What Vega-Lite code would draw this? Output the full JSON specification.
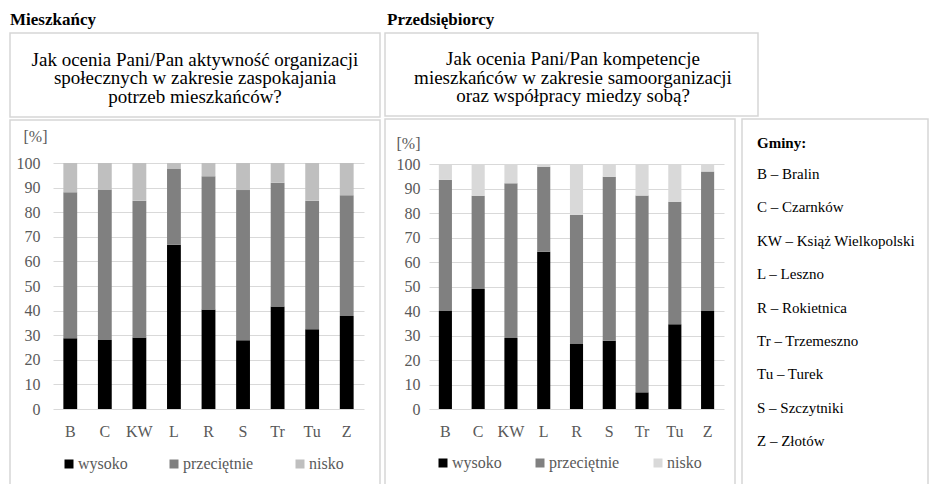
{
  "$schema": "https://vega.github.io/schema/vega-lite/v6.json",
  "padding": {"left": 9, "top": 10, "right": 0, "bottom": 0},
  "config": {
    "font": "Liberation Serif",
    "view": {"stroke": "#d6d6d6", "strokeWidth": 1.5},
    "concat": {"spacing": 1}
  },
  "datasets": {
    "mieszkancy": [
      {"g": "B", "k": "wysoko", "o": 1, "v": 28.8}, {"g": "B", "k": "przeciętnie", "o": 2, "v": 59.3}, {"g": "B", "k": "nisko", "o": 3, "v": 11.9},
      {"g": "C", "k": "wysoko", "o": 1, "v": 28.0}, {"g": "C", "k": "przeciętnie", "o": 2, "v": 61.2}, {"g": "C", "k": "nisko", "o": 3, "v": 10.8},
      {"g": "KW", "k": "wysoko", "o": 1, "v": 29.1}, {"g": "KW", "k": "przeciętnie", "o": 2, "v": 55.6}, {"g": "KW", "k": "nisko", "o": 3, "v": 15.3},
      {"g": "L", "k": "wysoko", "o": 1, "v": 66.8}, {"g": "L", "k": "przeciętnie", "o": 2, "v": 31.0}, {"g": "L", "k": "nisko", "o": 3, "v": 2.2},
      {"g": "R", "k": "wysoko", "o": 1, "v": 40.4}, {"g": "R", "k": "przeciętnie", "o": 2, "v": 54.2}, {"g": "R", "k": "nisko", "o": 3, "v": 5.4},
      {"g": "S", "k": "wysoko", "o": 1, "v": 27.9}, {"g": "S", "k": "przeciętnie", "o": 2, "v": 61.1}, {"g": "S", "k": "nisko", "o": 3, "v": 11.0},
      {"g": "Tr", "k": "wysoko", "o": 1, "v": 41.7}, {"g": "Tr", "k": "przeciętnie", "o": 2, "v": 50.3}, {"g": "Tr", "k": "nisko", "o": 3, "v": 8.0},
      {"g": "Tu", "k": "wysoko", "o": 1, "v": 32.4}, {"g": "Tu", "k": "przeciętnie", "o": 2, "v": 52.3}, {"g": "Tu", "k": "nisko", "o": 3, "v": 15.3},
      {"g": "Z", "k": "wysoko", "o": 1, "v": 37.8}, {"g": "Z", "k": "przeciętnie", "o": 2, "v": 49.1}, {"g": "Z", "k": "nisko", "o": 3, "v": 13.1}
    ],
    "przedsiebiorcy": [
      {"g": "B", "k": "wysoko", "o": 1, "v": 40.0}, {"g": "B", "k": "przeciętnie", "o": 2, "v": 53.5}, {"g": "B", "k": "nisko", "o": 3, "v": 6.5},
      {"g": "C", "k": "wysoko", "o": 1, "v": 49.0}, {"g": "C", "k": "przeciętnie", "o": 2, "v": 38.0}, {"g": "C", "k": "nisko", "o": 3, "v": 13.0},
      {"g": "KW", "k": "wysoko", "o": 1, "v": 29.0}, {"g": "KW", "k": "przeciętnie", "o": 2, "v": 63.1}, {"g": "KW", "k": "nisko", "o": 3, "v": 7.9},
      {"g": "L", "k": "wysoko", "o": 1, "v": 64.2}, {"g": "L", "k": "przeciętnie", "o": 2, "v": 34.7}, {"g": "L", "k": "nisko", "o": 3, "v": 1.1},
      {"g": "R", "k": "wysoko", "o": 1, "v": 26.7}, {"g": "R", "k": "przeciętnie", "o": 2, "v": 52.6}, {"g": "R", "k": "nisko", "o": 3, "v": 20.7},
      {"g": "S", "k": "wysoko", "o": 1, "v": 27.9}, {"g": "S", "k": "przeciętnie", "o": 2, "v": 66.9}, {"g": "S", "k": "nisko", "o": 3, "v": 5.2},
      {"g": "Tr", "k": "wysoko", "o": 1, "v": 6.8}, {"g": "Tr", "k": "przeciętnie", "o": 2, "v": 80.3}, {"g": "Tr", "k": "nisko", "o": 3, "v": 12.9},
      {"g": "Tu", "k": "wysoko", "o": 1, "v": 34.6}, {"g": "Tu", "k": "przeciętnie", "o": 2, "v": 50.0}, {"g": "Tu", "k": "nisko", "o": 3, "v": 15.4},
      {"g": "Z", "k": "wysoko", "o": 1, "v": 40.0}, {"g": "Z", "k": "przeciętnie", "o": 2, "v": 56.9}, {"g": "Z", "k": "nisko", "o": 3, "v": 3.1}
    ],
    "pytanie1": [
      {"i": 1, "t": "Jak ocenia Pani/Pan aktywność organizacji"},
      {"i": 2, "t": "społecznych w zakresie zaspokajania"},
      {"i": 3, "t": "potrzeb mieszkańców?"}
    ],
    "pytanie2": [
      {"i": 1, "t": "Jak ocenia Pani/Pan kompetencje"},
      {"i": 2, "t": "mieszkańców w zakresie samoorganizacji"},
      {"i": 3, "t": "oraz współpracy miedzy sobą?"}
    ],
    "gminy": [
      {"i": 1, "t": "B – Bralin"},
      {"i": 2, "t": "C – Czarnków"},
      {"i": 3, "t": "KW – Książ Wielkopolski"},
      {"i": 4, "t": "L – Leszno"},
      {"i": 5, "t": "R – Rokietnica"},
      {"i": 6, "t": "Tr – Trzemeszno"},
      {"i": 7, "t": "Tu – Turek"},
      {"i": 8, "t": "S – Szczytniki"},
      {"i": 9, "t": "Z – Złotów"}
    ]
  },
  "resolve": {"scale": {"color": "independent", "x": "independent", "y": "independent"}, "legend": {"color": "independent"}, "axis": {"x": "independent", "y": "independent"}},
  "spacing": 3,
  "hconcat": [
    {
      "spacing": 1,
      "resolve": {"scale": {"color": "independent", "x": "independent", "y": "independent"}, "legend": {"color": "independent"}},
      "vconcat": [
        {
          "width": 370,
          "height": 84,
          "title": {"text": "Mieszkańcy", "anchor": "start", "fontSize": 17, "fontWeight": "bold", "font": "Liberation Serif", "baseline": "alphabetic", "offset": -9, "color": "#000000"},
          "data": {"name": "pytanie1"},
          "mark": {"type": "text", "x": 185, "align": "center", "baseline": "middle", "fontSize": 19, "font": "Liberation Serif", "color": "#000000"},
          "encoding": {
            "y": {"field": "i", "type": "quantitative", "scale": {"domain": [0, 4], "range": [8, 82]}, "axis": null},
            "text": {"field": "t", "type": "nominal"}
          }
        },
        {
          "width": 370,
          "height": 366,
          "data": {"name": "mieszkancy"},
          "mark": {"type": "bar"},
          "encoding": {
            "x": {"field": "g", "type": "nominal", "sort": ["B", "C", "KW", "L", "R", "S", "Tr", "Tu", "Z"],
              "scale": {"range": [43, 354], "paddingInner": 0.6, "paddingOuter": 0.3},
              "axis": {"title": null, "orient": "bottom", "offset": -77, "domain": false, "ticks": false, "grid": false, "labelAngle": 0, "labelFontSize": 16, "labelColor": "#595959", "labelPadding": 14, "labelBaseline": "top", "labelFont": "Liberation Serif"}},
            "y": {"field": "v", "type": "quantitative", "stack": "zero",
              "scale": {"domain": [0, 100], "range": [289, 43], "nice": false, "zero": true},
              "axis": {"title": "[%]", "orient": "left", "offset": -43, "values": [0, 10, 20, 30, 40, 50, 60, 70, 80, 90, 100], "domain": false, "ticks": false, "grid": true, "gridColor": "#d9d9d9", "gridWidth": 1, "labelFontSize": 16, "labelColor": "#595959", "labelPadding": 13, "labelFont": "Liberation Serif",
                "titleAngle": 0, "titleAlign": "left", "titleBaseline": "middle", "titleX": -30, "titleY": 16, "titleFontSize": 16, "titleFontWeight": "normal", "titleColor": "#595959", "titleFont": "Liberation Serif"}},
            "color": {"field": "k", "type": "nominal",
              "scale": {"domain": ["wysoko", "przeciętnie", "nisko"], "range": ["#000000", "#808080", "#bfbfbf"]},
              "legend": {"title": null, "orient": "none", "direction": "horizontal", "legendX": 51, "legendY": 336, "padding": 0, "symbolType": "square", "symbolSize": 81, "symbolStrokeWidth": 0, "labelFontSize": 16, "labelColor": "#595959", "labelFont": "Liberation Serif", "labelOffset": 1, "columnPadding": 38}},
            "order": {"field": "o", "type": "quantitative"}
          }
        }
      ]
    },
    {
      "spacing": 1,
      "resolve": {"scale": {"color": "independent", "x": "independent", "y": "independent"}, "legend": {"color": "independent"}},
      "vconcat": [
        {
          "width": 373,
          "height": 83,
          "title": {"text": "Przedsiębiorcy", "anchor": "start", "fontSize": 17, "fontWeight": "bold", "font": "Liberation Serif", "baseline": "alphabetic", "offset": -9, "color": "#000000", "dx": 2},
          "data": {"name": "pytanie2"},
          "mark": {"type": "text", "x": 188, "align": "center", "baseline": "middle", "fontSize": 19, "font": "Liberation Serif", "color": "#000000"},
          "encoding": {
            "y": {"field": "i", "type": "quantitative", "scale": {"domain": [0, 4], "range": [7.5, 81.5]}, "axis": null},
            "text": {"field": "t", "type": "nominal"}
          }
        },
        {
          "spacing": 5,
          "resolve": {"scale": {"color": "independent", "x": "independent", "y": "independent"}, "legend": {"color": "independent"}},
          "hconcat": [
            {
              "width": 350,
              "height": 366,
              "data": {"name": "przedsiebiorcy"},
              "mark": {"type": "bar"},
              "encoding": {
                "x": {"field": "g", "type": "nominal", "sort": ["B", "C", "KW", "L", "R", "S", "Tr", "Tu", "Z"],
                  "scale": {"range": [44, 339], "paddingInner": 0.6, "paddingOuter": 0.3},
                  "axis": {"title": null, "orient": "bottom", "offset": -76, "domain": false, "ticks": false, "grid": false, "labelAngle": 0, "labelFontSize": 16, "labelColor": "#595959", "labelPadding": 14, "labelBaseline": "top", "labelFont": "Liberation Serif"}},
                "y": {"field": "v", "type": "quantitative", "stack": "zero",
                  "scale": {"domain": [0, 100], "range": [290, 45], "nice": false, "zero": true},
                  "axis": {"title": "[%]", "orient": "left", "offset": -44, "values": [0, 10, 20, 30, 40, 50, 60, 70, 80, 90, 100], "domain": false, "ticks": false, "grid": true, "gridColor": "#d9d9d9", "gridWidth": 1, "labelFontSize": 16, "labelColor": "#595959", "labelPadding": 9, "labelFont": "Liberation Serif",
                    "titleAngle": 0, "titleAlign": "left", "titleBaseline": "middle", "titleX": -33, "titleY": 24, "titleFontSize": 16, "titleFontWeight": "normal", "titleColor": "#595959", "titleFont": "Liberation Serif"}},
                "color": {"field": "k", "type": "nominal",
                  "scale": {"domain": ["wysoko", "przeciętnie", "nisko"], "range": ["#000000", "#808080", "#d9d9d9"]},
                  "legend": {"title": null, "orient": "none", "direction": "horizontal", "legendX": 50, "legendY": 336, "padding": 0, "symbolType": "square", "symbolSize": 81, "symbolStrokeWidth": 0, "labelFontSize": 16, "labelColor": "#595959", "labelFont": "Liberation Serif", "labelOffset": 1, "columnPadding": 30}},
                "order": {"field": "o", "type": "quantitative"}
              }
            },
            {
              "width": 186,
              "height": 366,
              "layer": [
                {
                  "data": {"values": [{}]},
                  "mark": {"type": "text", "text": "Gminy:", "x": 15, "y": 24, "align": "left", "baseline": "middle", "fontSize": 15, "fontWeight": "bold", "font": "Liberation Serif", "color": "#000000"},
                  "encoding": {}
                },
                {
                  "data": {"name": "gminy"},
                  "mark": {"type": "text", "x": 15, "align": "left", "baseline": "middle", "fontSize": 15, "font": "Liberation Serif", "color": "#000000"},
                  "encoding": {
                    "y": {"field": "i", "type": "quantitative", "scale": {"domain": [1, 9], "range": [55, 322]}, "axis": null},
                    "text": {"field": "t", "type": "nominal"}
                  }
                }
              ]
            }
          ]
        }
      ]
    }
  ]
}
